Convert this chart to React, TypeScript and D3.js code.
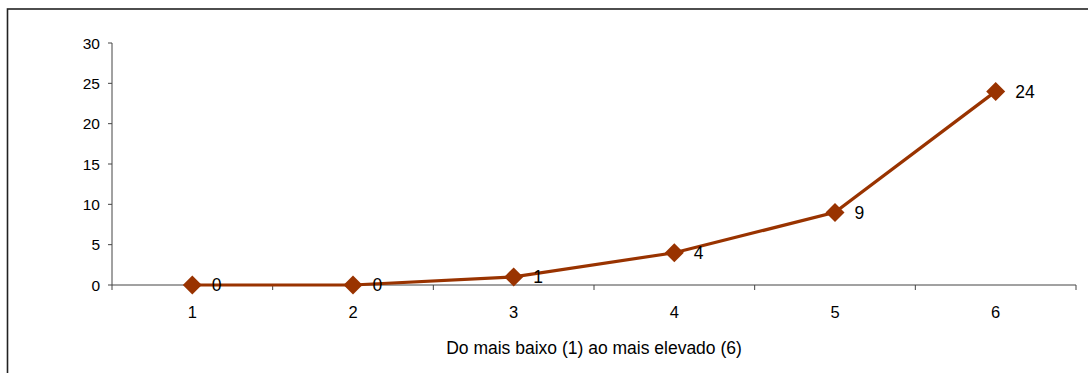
import React from "react";
import * as d3 from "d3";

const categories = ["1", "2", "3", "4", "5", "6"];
const values = [0, 0, 1, 4, 9, 24];
const yTicks = [0, 5, 10, 15, 20, 25, 30];
const xTitle = "Do mais baixo (1) ao mais elevado (6)";

const W = 1088;
const H = 373;
const color = "#993300";
const font = "'Liberation Sans', Arial, sans-serif";

export default function App() {
  const left = 112;
  const right = 1076;
  const top = 43;
  const bottom = 285;

  const x = d3.scaleBand<string>().domain(categories).range([left, right]);
  const y = d3.scaleLinear().domain([0, 30]).range([bottom, top]);

  const pts = categories.map((c, i) => [x(c)! + x.bandwidth() / 2, y(values[i])] as [number, number]);
  const line = d3.line()(pts) || "";
  const r = 9.5;

  const boundaries = [left, ...categories.map((c) => x(c)! + x.bandwidth())];

  return (
    <svg
      width={W}
      height={H}
      style={{ position: "absolute", left: 0, top: 0, background: "#fff" }}
      fontFamily={font}
    >
      <rect x={0} y={0} width={W} height={H} fill="#fff" />
      <rect x={7.5} y={9} width={W + 20} height={H + 20} fill="none" stroke="#222" strokeWidth={1.6} />

      {/* y axis */}
      <line x1={left} y1={top} x2={left} y2={bottom} stroke="#444" strokeWidth={1} />
      {yTicks.map((t) => (
        <g key={t}>
          <line x1={left - 4} x2={left} y1={y(t)} y2={y(t)} stroke="#444" strokeWidth={1} />
          <text x={100} y={y(t)} dy="0.36em" textAnchor="end" fontSize={15.5} fill="#000">
            {t}
          </text>
        </g>
      ))}

      {/* x axis */}
      <line x1={left} y1={bottom} x2={right} y2={bottom} stroke="#444" strokeWidth={1} />
      {boundaries.map((b, i) => (
        <line key={i} x1={b} x2={b} y1={bottom} y2={bottom + 5} stroke="#444" strokeWidth={1} />
      ))}
      {categories.map((c) => (
        <text
          key={c}
          x={x(c)! + x.bandwidth() / 2}
          y={312}
          dy="0.36em"
          textAnchor="middle"
          fontSize={16.5}
          fill="#000"
        >
          {c}
        </text>
      ))}
      <text x={594} y={348} dy="0.36em" textAnchor="middle" fontSize={17.5} fill="#000">
        {xTitle}
      </text>

      {/* series */}
      <path d={line} fill="none" stroke={color} strokeWidth={3.2} />
      {pts.map(([px, py], i) => (
        <g key={i}>
          <path
            d={`M${px},${py - r}L${px + r},${py}L${px},${py + r}L${px - r},${py}Z`}
            fill={color}
          />
          <text x={px + 19.5} y={py} dy="0.36em" fontSize={17.5} fill="#000">
            {values[i]}
          </text>
        </g>
      ))}
    </svg>
  );
}
